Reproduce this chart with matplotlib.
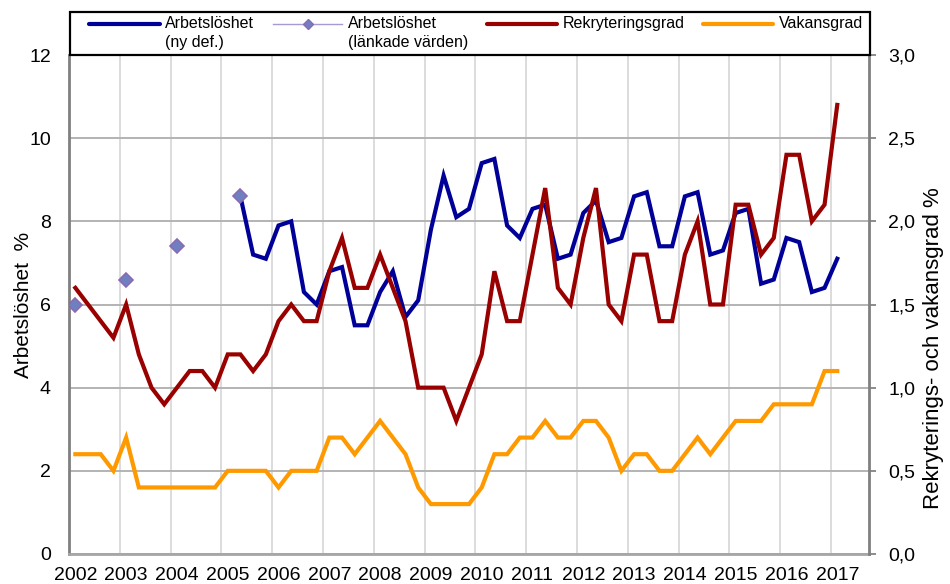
import numpy as np
import matplotlib
matplotlib.use("Agg")
import matplotlib.pyplot as plt
from matplotlib.transforms import Affine2D
from matplotlib.patches import Rectangle
from matplotlib.lines import Line2D

plt.rcParams['font.family'] = ['Liberation Sans', 'DejaVu Sans']

# ---- data (quarterly, 2002Q1 = index 0) ----
years = [str(y) for y in range(2002, 2018)]
n_cat = 63  # category slots on the x axis

unemp_start = 13  # 2005Q2
unemp_new = [8.6, 7.2, 7.1, 7.9, 8.0, 6.3, 6.0, 6.8, 6.9, 5.5, 5.5, 6.3, 6.8, 5.7,
             6.1, 7.8, 9.1, 8.1, 8.3, 9.4, 9.5, 7.9, 7.6, 8.3, 8.4, 7.1, 7.2, 8.2,
             8.5, 7.5, 7.6, 8.6, 8.7, 7.4, 7.4, 8.6, 8.7, 7.2, 7.3, 8.2, 8.3, 6.5,
             6.6, 7.6, 7.5, 6.3, 6.4, 7.1]
linked_idx = [0, 4, 8, 13]
linked_vals = [6.0, 6.6, 7.4, 8.6]

recruit = [1.6, 1.5, 1.4, 1.3, 1.5, 1.2, 1.0, 0.9, 1.0, 1.1, 1.1, 1.0, 1.2, 1.2,
           1.1, 1.2, 1.4, 1.5, 1.4, 1.4, 1.7, 1.9, 1.6, 1.6, 1.8, 1.6, 1.4, 1.0,
           1.0, 1.0, 0.8, 1.0, 1.2, 1.7, 1.4, 1.4, 1.8, 2.2, 1.6, 1.5, 1.9, 2.2,
           1.5, 1.4, 1.8, 1.8, 1.4, 1.4, 1.8, 2.0, 1.5, 1.5, 2.1, 2.1, 1.8, 1.9,
           2.4, 2.4, 2.0, 2.1, 2.7]
vacancy = [0.6, 0.6, 0.6, 0.5, 0.7, 0.4, 0.4, 0.4, 0.4, 0.4, 0.4, 0.4, 0.5, 0.5,
           0.5, 0.5, 0.4, 0.5, 0.5, 0.5, 0.7, 0.7, 0.6, 0.7, 0.8, 0.7, 0.6, 0.4,
           0.3, 0.3, 0.3, 0.3, 0.4, 0.6, 0.6, 0.7, 0.7, 0.8, 0.7, 0.7, 0.8, 0.8,
           0.7, 0.5, 0.6, 0.6, 0.5, 0.5, 0.6, 0.7, 0.6, 0.7, 0.8, 0.8, 0.8, 0.9,
           0.9, 0.9, 0.9, 1.1, 1.1]

left_ticks = [0, 2, 4, 6, 8, 10, 12]
right_ticks = [0.0, 0.5, 1.0, 1.5, 2.0, 2.5, 3.0]
right_labels = ['0,0', '0,5', '1,0', '1,5', '2,0', '2,5', '3,0']

labels = ['Arbetslöshet\n(ny def.)', 'Arbetslöshet\n(länkade värden)',
          'Rekryteringsgrad', 'Vakansgrad']

BLUE = '#000099'
RED = '#990000'
ORANGE = '#ff9900'
DIA_FACE = '#6f80c0'
DIA_EDGE = '#8a6ab4'

W, H = 950, 584
fig = plt.figure(figsize=(W / 100, H / 100), dpi=100)
ax = fig.add_axes([69 / W, 1 - 554 / H, (869 - 69) / W, (554 - 55) / H])
ax2 = ax.twinx()

x_rec = np.arange(len(recruit))
x_un = np.arange(unemp_start, unemp_start + len(unemp_new))

ax.plot(x_un, unemp_new, color=BLUE, lw=3.0, solid_joinstyle='miter', zorder=3)
ax.plot(linked_idx, linked_vals, ls='none', marker='D', ms=7,
        mfc=DIA_FACE, mec=DIA_EDGE, mew=1.2, zorder=4)
ax2.plot(x_rec, vacancy, color=ORANGE, lw=3.0, solid_joinstyle='miter', zorder=3)
ax2.plot(x_rec, recruit, color=RED, lw=3.0, solid_joinstyle='miter', zorder=3)

ax.set_xlim(-0.5, n_cat - 0.5)
ax.set_ylim(0, 12)
ax2.set_ylim(0, 3)

ax.set_xticks(np.arange(0, 4 * len(years), 4))
ax.set_xticklabels(years)
ax.set_xticks(np.arange(3.5, 4 * len(years) - 1, 4), minor=True)
ax.set_yticks(left_ticks)
ax2.set_yticks(right_ticks)
ax2.set_yticklabels(right_labels)

ax.grid(axis='x', which='minor', color='#dcdcdc', lw=1.4)
ax.grid(axis='y', which='major', color='#b3b3b3', lw=1.4)
ax.set_axisbelow(True)

ax.tick_params(axis='x', which='both', length=0, pad=9, labelsize=14)
ax.tick_params(axis='y', length=0, pad=13, labelsize=14)
ax2.tick_params(axis='y', length=5, width=1.4, color='#8c8c8c', pad=9, labelsize=14)

for a in (ax, ax2):
    for s in a.spines.values():
        s.set_visible(False)
ax.spines['left'].set_visible(True)
ax.spines['left'].set_color('#808080')
ax.spines['left'].set_linewidth(2)
ax.spines['bottom'].set_visible(True)
ax.spines['bottom'].set_color('#a6a6a6')
ax.spines['bottom'].set_linewidth(2)
ax2.spines['right'].set_visible(True)
ax2.spines['right'].set_color('#808080')
ax2.spines['right'].set_linewidth(2)

ax.set_ylabel('Arbetslöshet  %', fontsize=15)
ax.yaxis.set_label_coords(-0.045, 0.5)
ax2.set_ylabel('Rekryterings- och vakansgrad %', fontsize=16)
ax2.yaxis.set_label_coords(1.068, 0.413)

# ---- legend box (pixel coordinates) ----
tr = Affine2D().scale(1 / W, -1 / H).translate(0, 1) + fig.transFigure
fig.add_artist(Rectangle((70, 12), 800, 43, transform=tr, fc='white',
                         ec='black', lw=1.6, zorder=5))
handle_x = [(89, 160), (273, 342), (487, 557), (703, 773)]
text_x = [165, 348, 563, 779]
hy = 24
fig.add_artist(Line2D(handle_x[0], [hy, hy], transform=tr, color=BLUE, lw=3.0,
                      solid_capstyle='round', zorder=6))
fig.add_artist(Line2D(handle_x[1], [hy, hy], transform=tr, color='#a898d4', lw=1.0,
                      zorder=6))
fig.add_artist(Line2D([sum(handle_x[1]) / 2], [hy], transform=tr, ls='none',
                      marker='D', ms=5, mfc=DIA_FACE, mec=DIA_EDGE, zorder=7))
fig.add_artist(Line2D(handle_x[2], [hy, hy], transform=tr, color=RED, lw=3.0,
                      solid_capstyle='round', zorder=6))
fig.add_artist(Line2D(handle_x[3], [hy, hy], transform=tr, color=ORANGE, lw=3.0,
                      solid_capstyle='round', zorder=6))
for tx, lab in zip(text_x, labels):
    fig.text(tx, 16, lab, transform=tr, va='top', ha='left', fontsize=11.5,
             linespacing=1.3, zorder=7)

fig.savefig('out.png', dpi=100)
